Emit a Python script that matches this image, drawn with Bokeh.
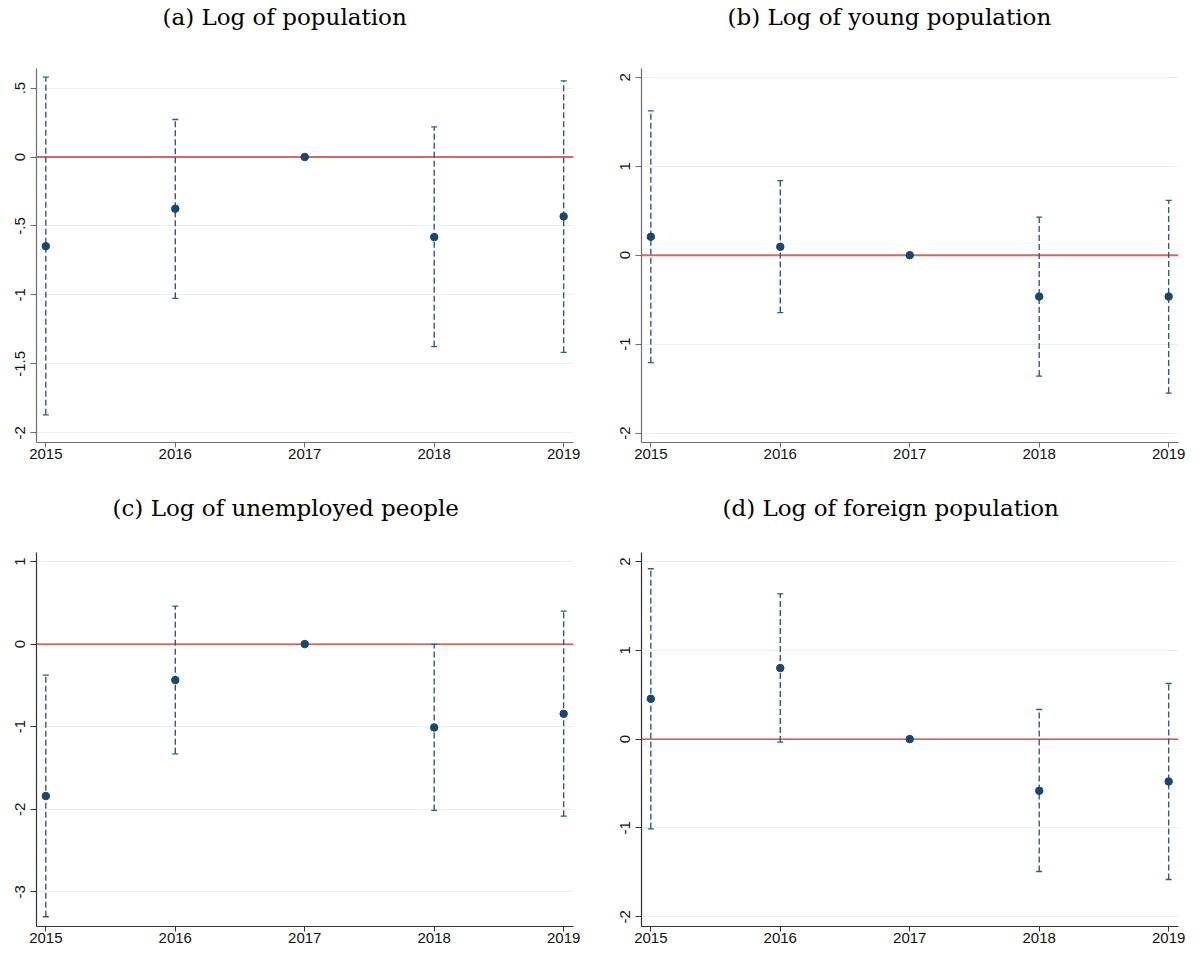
from bokeh.plotting import figure
from bokeh.models import ColumnDataSource, Whisker, TeeHead, Span, FixedTicker, Title
from bokeh.layouts import column, row
from bokeh.embed import file_html
from bokeh.resources import INLINE

years = [2015, 2016, 2017, 2018, 2019]
year_labels = ["2015", "2016", "2017", "2018", "2019"]

title_a = "(a) Log of population"
title_b = "(b) Log of young population"
title_c = "(c) Log of unemployed people"
title_d = "(d) Log of foreign population"

pop_est = [-0.647, -0.375, 0.0, -0.581, -0.431]
pop_lo = [-1.870, -1.025, 0.0, -1.376, -1.417]
pop_hi = [0.579, 0.272, 0.0, 0.218, 0.552]

young_est = [0.207, 0.094, 0.0, -0.465, -0.465]
young_lo = [-1.208, -0.645, 0.0, -1.359, -1.550]
young_hi = [1.622, 0.838, 0.0, 0.428, 0.616]

unemp_est = [-1.840, -0.436, 0.0, -1.009, -0.844]
unemp_lo = [-3.301, -1.328, 0.0, -2.014, -2.083]
unemp_hi = [-0.375, 0.460, 0.0, -0.004, 0.399]

foreign_est = [0.454, 0.800, 0.0, -0.582, -0.477]
foreign_lo = [-1.010, -0.034, 0.0, -1.491, -1.581]
foreign_hi = [1.918, 1.636, 0.0, 0.333, 0.626]

yticks_a = [-2, -1.5, -1, -0.5, 0, 0.5]
ylabels_a = ["-2", "-1.5", "-1", "-.5", "0", ".5"]
yticks_b = [-2, -1, 0, 1, 2]
ylabels_b = ["-2", "-1", "0", "1", "2"]
yticks_c = [-3, -2, -1, 0, 1]
ylabels_c = ["-3", "-2", "-1", "0", "1"]
yticks_d = [-2, -1, 0, 1, 2]
ylabels_d = ["-2", "-1", "0", "1", "2"]

PT = "#1a476f"
CI = "#2e5b85"
GRID = "#e9f0f2"


def make_panel(title, est, lo, hi, yticks, ylabels, yrange, width, height,
               bl, br, bt, bb, offset, spacer, zero_color, zero_width, axis_color):
    p = figure(width=width, height=height, x_range=(2014.928, 2019.076),
               y_range=yrange, output_backend="svg", toolbar_location=None,
               title=None,
               min_border_left=bl, min_border_right=br, min_border_top=bt,
               min_border_bottom=bb)
    p.outline_line_color = None
    p.background_fill_color = "white"
    p.border_fill_color = "white"

    # spacer panel between frame and title
    p.add_layout(Title(text=" ", text_font_size="1px", standoff=spacer), "above")
    p.add_layout(Title(text=title, text_font="DejaVu Serif", text_font_size="23px",
                       text_font_style="normal", text_color="black",
                       align="left", offset=offset, standoff=0,
                       vertical_align="bottom"), "above")

    p.xgrid.grid_line_color = None
    p.ygrid.grid_line_color = GRID
    p.ygrid.grid_line_width = 1

    p.xaxis.ticker = FixedTicker(ticks=years)
    p.xaxis.major_label_overrides = {y: l for y, l in zip(years, year_labels)}
    p.yaxis.ticker = FixedTicker(ticks=yticks)
    p.yaxis.major_label_overrides = {t: l for t, l in zip(yticks, ylabels)}
    p.yaxis.major_label_orientation = "vertical"

    for ax in (p.xaxis, p.yaxis):
        ax.axis_line_color = axis_color
        ax.axis_line_width = 1.2
        ax.major_tick_line_color = axis_color
        ax.major_tick_line_width = 1
        ax.major_tick_in = 0
        ax.minor_tick_line_color = None
        ax.major_label_text_font = "Liberation Sans"
        ax.major_label_text_font_size = "15px"
        ax.major_label_text_color = "#111111"
    p.xaxis.major_tick_out = 5
    p.xaxis.major_label_standoff = 1
    p.yaxis.major_tick_out = 6
    p.yaxis.major_label_standoff = 5

    p.add_layout(Span(location=0, dimension="width", line_color=zero_color,
                      line_width=zero_width, level="underlay"))

    idx = [i for i in range(len(years)) if hi[i] != lo[i]]
    wsrc = ColumnDataSource(dict(x=[years[i] for i in idx],
                                 lo=[lo[i] for i in idx],
                                 hi=[hi[i] for i in idx]))
    w = Whisker(source=wsrc, base="x", upper="hi", lower="lo",
                dimension="height", line_color=CI, line_width=1.4,
                line_dash="6 3", level="underlay",
                upper_head=TeeHead(size=6, line_color=CI, line_width=1.3),
                lower_head=TeeHead(size=6, line_color=CI, line_width=1.3))
    p.add_layout(w)

    src = ColumnDataSource(dict(x=years, y=est))
    p.scatter("x", "y", source=src, size=7.5, marker="circle",
              fill_color=PT, line_color=PT)
    return p


pa = make_panel(title_a, pop_est, pop_lo, pop_hi, yticks_a, ylabels_a,
                (-2.071, 0.642), 605, 476, 36, 32, 68, 34, 126, 35.8,
                "#cf6c62", 2, "#6e6e6e")
pb = make_panel(title_b, young_est, young_lo, young_hi, yticks_b, ylabels_b,
                (-2.106, 2.099), 595, 476, 36, 22, 68, 34, 86, 35.8,
                "#cf6c62", 2, "#6e6e6e")
pc = make_panel(title_c, unemp_est, unemp_lo, unemp_hi, yticks_c, ylabels_c,
                (-3.419, 1.109), 605, 475, 36, 32, 76, 25, 76, 29.2,
                "#c0392b", 1.3, "#333333")
pd = make_panel(title_d, foreign_est, foreign_lo, foreign_hi, yticks_d, ylabels_d,
                (-2.110, 2.101), 595, 475, 36, 22, 76, 25, 81, 29.2,
                "#c0392b", 1.3, "#333333")

layout = column(row(pa, pb), row(pc, pd))

open("out.html", "w").write(file_html(layout, INLINE))
